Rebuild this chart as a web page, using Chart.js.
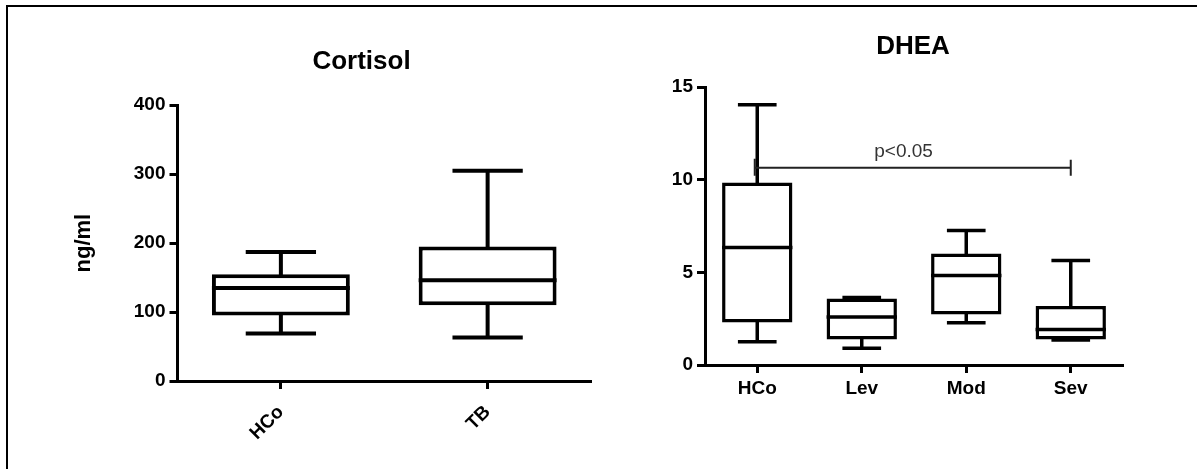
<!DOCTYPE html>
<html lang="en">
<head>
  <meta charset="UTF-8">
  <title>Cortisol and DHEA</title>
  <style>
    body {
      margin: 0;
      background: #fff;
      width: 1197px;
      height: 469px;
      overflow: hidden;
      position: relative;
    }
    #frame {
      position: absolute;
      left: 6px;
      top: 5px;
      right: 0;
      bottom: 0;
      border-left: 2px solid #000;
      border-top: 2px solid #000;
    }
    #cortisol { position: absolute; left: 0; top: 0; }
    #dhea { position: absolute; left: 640px; top: 0; }
  </style>
</head>
<body>
  <div id="frame"></div>
  <canvas id="cortisol" width="723" height="469"></canvas>
  <canvas id="dhea" width="546" height="469"></canvas>

  <script src="https://cdn.jsdelivr.net/npm/chart.js"></script>
  <script>
    // Cortisol (ng/ml): box = quartiles, whiskers = min/max
    const cortisolGroups = ['HCo', 'TB'];
    const cortisolMin = [69, 63];
    const cortisolQ1 = [95, 110];
    const cortisolMedian = [135, 146];
    const cortisolQ3 = [155, 195];
    const cortisolMax = [187, 305];

    // DHEA by severity
    const dheaGroups = ['HCo', 'Lev', 'Mod', 'Sev'];
    const dheaMin = [1.25, 0.9, 2.28, 1.35];
    const dheaQ1 = [2.3, 1.38, 2.73, 1.38];
    const dheaMedian = [6.35, 2.59, 4.83, 1.92];
    const dheaQ3 = [9.85, 3.59, 6.02, 3.18];
    const dheaMax = [14.05, 3.65, 7.26, 5.64];

    // significance bracket HCo vs Sev
    const pBracket = { from: 0, to: 3, value: 10.65, text: 'p<0.05', textAt: 1.4 };

    const FONT = "'Liberation Sans', Arial, sans-serif";

    // medians, whisker stems and caps on top of the floating-bar boxes
    const whiskerPlugin = {
      id: 'whiskers',
      afterDatasetsDraw(chart, args, opts) {
        const { ctx, scales: { x, y } } = chart;
        const bars = chart.getDatasetMeta(0).data;
        const step = x.getPixelForValue(1) - x.getPixelForValue(0);
        ctx.save();
        ctx.strokeStyle = '#000';
        ctx.lineWidth = opts.lineWidth;
        ctx.lineCap = 'butt';
        opts.median.forEach((m, i) => {
          const cx = x.getPixelForValue(i);
          const half = bars[i].width / 2;
          const cap = step * opts.capFrac / 2;
          const inset = opts.lineWidth / 2;
          ctx.beginPath();
          // median
          ctx.moveTo(cx - half, y.getPixelForValue(m));
          ctx.lineTo(cx + half, y.getPixelForValue(m));
          // upper whisker
          ctx.moveTo(cx, y.getPixelForValue(opts.q3[i]) + inset);
          ctx.lineTo(cx, y.getPixelForValue(opts.max[i]));
          ctx.moveTo(cx - cap, y.getPixelForValue(opts.max[i]));
          ctx.lineTo(cx + cap, y.getPixelForValue(opts.max[i]));
          // lower whisker
          ctx.moveTo(cx, y.getPixelForValue(opts.q1[i]) - inset);
          ctx.lineTo(cx, y.getPixelForValue(opts.min[i]));
          ctx.moveTo(cx - cap, y.getPixelForValue(opts.min[i]));
          ctx.lineTo(cx + cap, y.getPixelForValue(opts.min[i]));
          ctx.stroke();
        });

        const b = opts.bracket;
        if (b) {
          // the left end sits just beside the whisker stem
          const x1 = x.getPixelForValue(b.from) - 2.5;
          const x2 = x.getPixelForValue(b.to);
          const by = y.getPixelForValue(b.value);
          ctx.strokeStyle = '#222';
          ctx.lineWidth = 2;
          ctx.beginPath();
          ctx.moveTo(x1, by);
          ctx.lineTo(x2, by);
          ctx.moveTo(x1, by - 9);
          ctx.lineTo(x1, by + 8);
          ctx.moveTo(x2, by - 8);
          ctx.lineTo(x2, by + 8);
          ctx.stroke();
          ctx.fillStyle = '#333';
          ctx.font = '19px ' + FONT;
          ctx.textAlign = 'center';
          ctx.textBaseline = 'middle';
          ctx.fillText(b.text, x.getPixelForValue(b.textAt), by - 16);
        }
        ctx.restore();
      }
    };

    function axisStyle(size, lineWidth) {
      return {
        grid: { display: true, drawOnChartArea: false, offset: false, tickLength: 8, tickWidth: lineWidth, tickColor: '#000' },
        border: { display: true, color: '#000', width: lineWidth },
        ticks: { color: '#000', padding: 4, font: { family: FONT, size: size, weight: 'bold' } }
      };
    }

    function makeBoxChart(id, cfg) {
      const xAxis = axisStyle(19, cfg.axisWidth);
      xAxis.ticks.minRotation = cfg.rotation;
      xAxis.ticks.maxRotation = cfg.rotation;
      xAxis.ticks.padding = cfg.xPad;
      xAxis.afterFit = s => { s.height = cfg.xHeight; };

      const yAxis = axisStyle(19, cfg.axisWidth);
      yAxis.min = 0;
      yAxis.max = cfg.yMax;
      yAxis.ticks.stepSize = cfg.yStep;
      yAxis.afterFit = s => { s.width = cfg.yWidth; };
      if (cfg.yTitle) {
        yAxis.title = {
          display: true, text: cfg.yTitle, color: '#000',
          font: { family: FONT, size: 22, weight: 'bold' },
          padding: { top: cfg.yTitlePad, bottom: 0 }
        };
      }

      return new Chart(document.getElementById(id), {
        type: 'bar',
        data: {
          labels: cfg.labels,
          datasets: [{
            data: cfg.labels.map((g, i) => [cfg.q1[i], cfg.q3[i]]),
            backgroundColor: '#fff',
            borderColor: '#000',
            borderWidth: cfg.boxLine,
            borderSkipped: false,
            categoryPercentage: 1,
            barPercentage: cfg.boxFrac
          }]
        },
        options: {
          responsive: false,
          animation: false,
          layout: { padding: 0 },
          plugins: {
            legend: { display: false },
            tooltip: { enabled: false },
            title: {
              display: true, text: cfg.title, color: '#000',
              font: { family: FONT, size: 26, weight: 'bold' },
              padding: cfg.titlePad
            },
            whiskers: {
              min: cfg.min, q1: cfg.q1, median: cfg.median, q3: cfg.q3, max: cfg.max,
              lineWidth: cfg.boxLine, capFrac: cfg.capFrac, bracket: cfg.bracket
            }
          },
          scales: {
            x: xAxis,
            y: yAxis,
            pad: {
              position: 'right', display: true,
              ticks: { display: false }, grid: { display: false }, border: { display: false },
              afterFit: s => { s.width = cfg.rightWidth; }
            }
          }
        },
        plugins: [whiskerPlugin]
      });
    }

    makeBoxChart('cortisol', {
      title: 'Cortisol', labels: cortisolGroups,
      min: cortisolMin, q1: cortisolQ1, median: cortisolMedian, q3: cortisolQ3, max: cortisolMax,
      yMax: 400, yStep: 100, yTitle: 'ng/ml', yTitlePad: 71,
      yWidth: 177.5, rightWidth: 132, xHeight: 88, rotation: 45, xPad: 12,
      titlePad: { top: 46, bottom: 28 },
      axisWidth: 3, boxLine: 4, boxFrac: 0.667, capFrac: 0.34
    });

    makeBoxChart('dhea', {
      title: 'DHEA', labels: dheaGroups,
      min: dheaMin, q1: dheaQ1, median: dheaMedian, q3: dheaQ3, max: dheaMax,
      yMax: 15, yStep: 5,
      yWidth: 65, rightWidth: 63, xHeight: 104, rotation: 0, xPad: 4,
      titlePad: { top: 31, bottom: 25 },
      axisWidth: 3, boxLine: 3.5, boxFrac: 0.673, capFrac: 0.37,
      bracket: pBracket
    });
  </script>
</body>
</html>
